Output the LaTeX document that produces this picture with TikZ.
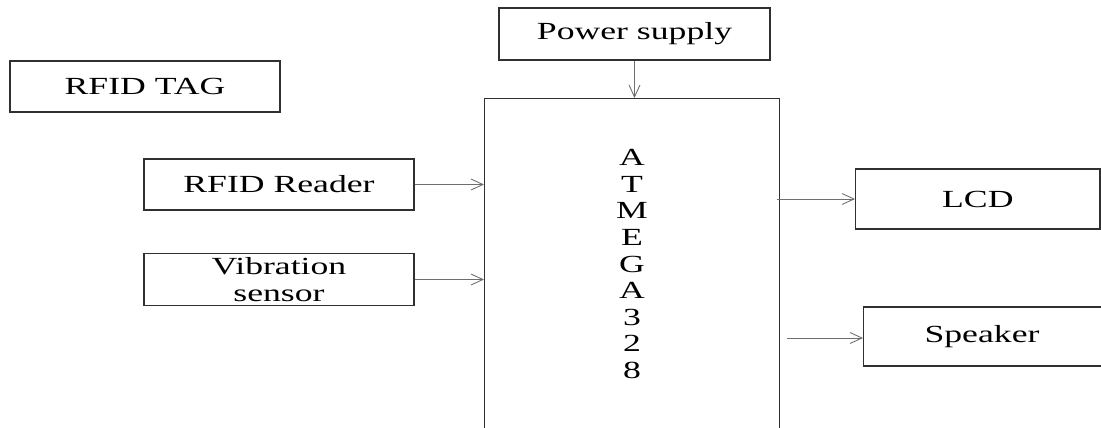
\documentclass[tikz,border=0pt]{standalone}
\usepackage{fontspec}
\setmainfont{Liberation Serif}[FakeStretch=1.45]
\usetikzlibrary{arrows.meta}
\definecolor{boxline}{HTML}{303030}
\definecolor{arrowline}{HTML}{6E6E6E}
\tikzset{
	blockbox/.style={draw=boxline, line width=0.7pt, inner sep=0pt, align=center,
		font=\fontsize{14}{15}\selectfont},
	sigarrow/.style={draw=arrowline, line width=0.5pt,
		-{Straight Barb[length=0.24cm, width=0.22cm]}}
}
\begin{document}
\begin{tikzpicture}[x=0.02cm, y=-0.02cm]
	\useasboundingbox (0,0) rectangle (1101,427);
	\clip (0,0) rectangle (1101,427);

	% --- Inputs ---
	\node[blockbox, minimum width=5.4cm, minimum height=1.02cm] (tag) at (145,86.5) {RFID TAG};
	\node[blockbox, minimum width=5.4cm, minimum height=1.02cm] (reader) at (279,184.5) {RFID Reader};
	\node[blockbox, minimum width=5.4cm, minimum height=1.04cm] (vib) at (279,279.5) {Vibration\\sensor};
	\node[blockbox, minimum width=5.42cm, minimum height=1.04cm] (power) at (634.5,34) {Power supply};

	% --- Controller ---
	\node[blockbox, minimum width=5.9cm, minimum height=6.9cm, anchor=north west] (mcu) at (484,98) {};
	\node[align=center, inner sep=0pt, font=\fontsize{14}{15.1}\selectfont] (chip) at (632,264)
		{A\\T\\M\\E\\G\\A\\3\\2\\8};

	% --- Outputs ---
	\node[blockbox, minimum width=4.89cm, minimum height=1.2cm, anchor=west] (lcd) at (855,199) {LCD};
	\node[blockbox, minimum width=5.4cm, minimum height=1.18cm, anchor=west] (speaker) at (863,336.5) {};
	\node[font=\fontsize{14}{15}\selectfont] (spk) at (982,336.5) {Speaker};

	% --- Fleches ---
	\draw[sigarrow] (reader.east) -- (reader.east -| mcu.west);
	\draw[sigarrow] (vib.east) -- (vib.east -| mcu.west);
	\draw[sigarrow] (power.south) -- (power.south |- mcu.north);
	\draw[sigarrow] ([xshift=-0.06cm]lcd.west -| mcu.east) -- (lcd.west);
	\draw[sigarrow] ([xshift=0.14cm, yshift=-0.03cm]speaker.west -| mcu.east) -- ([yshift=-0.03cm]speaker.west);
\end{tikzpicture}
\end{document}
